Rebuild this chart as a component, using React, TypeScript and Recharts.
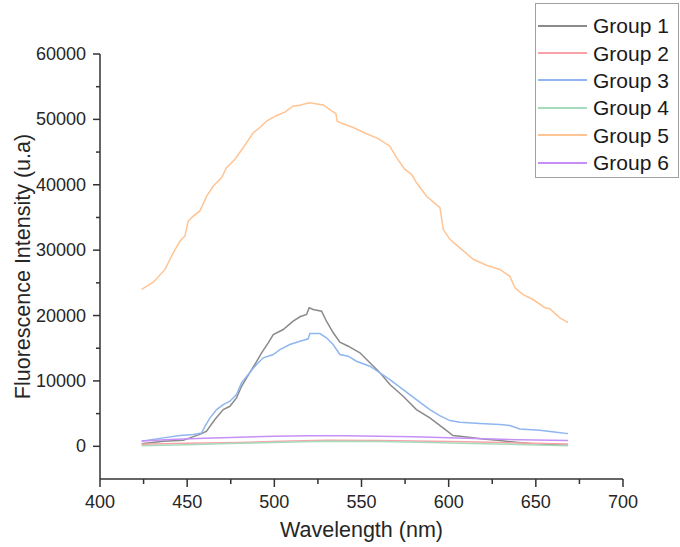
import { LineChart, Line, XAxis, YAxis, Legend } from 'recharts'

const SERIES_NAMES = ['Group 1', 'Group 2', 'Group 3', 'Group 4', 'Group 5', 'Group 6']
const SERIES_COLORS = ['#8a8a8a', '#f9a3a8', '#8fb6f0', '#a6dcbd', '#ffc494', '#c690f7']

const X_TICKS = [400, 425, 450, 475, 500, 525, 550, 575, 600, 625, 650, 675, 700]
const Y_TICKS = [0, 5000, 10000, 15000, 20000, 25000, 30000, 35000, 40000, 45000, 50000, 55000, 60000]

const G1_WL = [423.9, 436.3, 447.8, 451.6, 458.3, 461.1, 465.9, 470.7, 474.5, 478.3, 481.2, 484.1, 488.8, 492.7, 496.5, 499.4, 505.1, 510.8, 514.7, 518.5, 520.0, 522.3, 527.1, 529.9, 533.8, 537.6, 542.4, 549.1, 554.8, 560.6, 566.3, 573.9, 581.5, 589.2, 596.8, 602.5, 610.2, 619.7, 629.4, 638.9, 648.4, 658.0, 668.5]
const G1_VAL = [400, 760, 920, 1290, 1940, 2300, 4090, 5620, 6120, 7410, 9180, 10470, 12510, 14300, 15830, 17100, 17860, 19130, 19810, 20160, 21180, 20920, 20660, 19130, 17360, 15920, 15310, 14300, 12770, 11240, 9440, 7650, 5620, 4350, 2820, 1640, 1440, 1130, 870, 610, 410, 260, 150]

const G2_WL = [423.9, 450, 480, 510, 530, 560, 590, 610, 640, 668.5]
const G2_VAL = [300, 450, 600, 800, 920, 900, 780, 700, 500, 350]

const G3_WL = [423.9, 436.3, 445.9, 453.5, 458.3, 460.2, 463.1, 466.9, 470.7, 474.5, 478.3, 481.2, 485.0, 489.8, 493.6, 499.4, 503.2, 508.9, 514.7, 519.4, 520.4, 526.1, 529.9, 533.7, 537.6, 542.4, 547.1, 554.8, 560.6, 566.3, 573.9, 581.5, 589.2, 594.9, 600.7, 606.4, 617.9, 629.4, 635.1, 640.8, 652.3, 661.8, 668.5]
const G3_VAL = [760, 1290, 1640, 1790, 2050, 3060, 4350, 5620, 6380, 6890, 7910, 9700, 10980, 12510, 13530, 14040, 14800, 15570, 16070, 16440, 17250, 17250, 16590, 15570, 14040, 13780, 13010, 12250, 11240, 10210, 8680, 7150, 5620, 4700, 3930, 3670, 3470, 3320, 3170, 2660, 2450, 2140, 1940]

const G4_WL = [423.9, 450, 480, 510, 530, 560, 590, 620, 645, 668.5]
const G4_VAL = [100, 250, 450, 650, 780, 740, 600, 400, 250, 100]

const G5_WL = [423.9, 430.6, 437.3, 442.0, 445.9, 448.7, 450.6, 453.5, 457.3, 461.2, 465.0, 469.8, 472.6, 477.4, 482.2, 487.9, 491.7, 495.6, 501.3, 506.1, 510.8, 514.7, 520.0, 528.0, 532.9, 535.3, 536.0, 538.6, 545.2, 552.9, 559.6, 566.3, 570.1, 574.9, 578.7, 581.6, 587.3, 595.0, 596.9, 600.7, 606.4, 614.1, 621.7, 629.4, 635.1, 638.0, 642.7, 648.4, 655.2, 658.0, 663.8, 668.5]
const G5_VAL = [24000, 25100, 27050, 29600, 31400, 32150, 34450, 35200, 36000, 38250, 39800, 41100, 42600, 43900, 45700, 47950, 48750, 49750, 50600, 51100, 52050, 52150, 52550, 52200, 51300, 50900, 49750, 49400, 48750, 47800, 47050, 45900, 44150, 42350, 41600, 40300, 38250, 36500, 33150, 31650, 30350, 28600, 27700, 27050, 26000, 24250, 23200, 22450, 21200, 21050, 19650, 18900]

const G6_WL = [423.9, 440, 460, 480, 500, 520, 540, 560, 580, 600, 620, 640, 668.5]
const G6_VAL = [800, 1050, 1250, 1400, 1550, 1600, 1600, 1550, 1450, 1300, 1150, 1000, 870]

const toRows = (wl: number[], val: number[]) => wl.map((w, i) => ({ w, v: val[i] }))
const series = [
  toRows(G1_WL, G1_VAL),
  toRows(G2_WL, G2_VAL),
  toRows(G3_WL, G3_VAL),
  toRows(G4_WL, G4_VAL),
  toRows(G5_WL, G5_VAL),
  toRows(G6_WL, G6_VAL),
]

const FONT = '"Liberation Sans", Arial, sans-serif'
const AXIS = '#333333'
const TEXT = '#262626'
const TICK_SIZE = 8
const TICK_MARGIN = 6

const YTick = (p: any) => {
  const { x, y, payload } = p
  const major = payload.value % 10000 === 0
  const ax = x + TICK_SIZE + TICK_MARGIN
  return (
    <g>
      <line x1={ax - (major ? 7 : 4)} x2={ax} y1={y} y2={y} stroke={AXIS} strokeWidth={1.5} />
      {major && (
        <text x={x} y={y + 6} textAnchor="end" fontSize={18} fill={TEXT} fontFamily={FONT}>
          {payload.value}
        </text>
      )}
    </g>
  )
}

const XTick = (p: any) => {
  const { x, y, payload } = p
  const major = payload.value % 50 === 0
  const ay = y - TICK_SIZE - TICK_MARGIN
  return (
    <g>
      <line x1={x} x2={x} y1={ay} y2={ay + (major ? 8 : 5)} stroke={AXIS} strokeWidth={1.5} />
      {major && (
        <text x={x} y={ay + 29} textAnchor="middle" fontSize={18} fill={TEXT} fontFamily={FONT}>
          {payload.value}
        </text>
      )}
    </g>
  )
}

const LegendBox = ({ payload }: any) => (
  <div style={{ width: 144, height: 175, border: '1.5px solid #a0a0a0', boxSizing: 'border-box', background: '#fff', paddingTop: 8 }}>
    {(payload || []).map((e: any) => (
      <div key={e.value} style={{ height: 27.4, display: 'flex', alignItems: 'center' }}>
        <div style={{ width: 49, height: 2, background: e.color, marginLeft: 2 }} />
        <span style={{ marginLeft: 6, fontSize: 21, fontFamily: FONT, color: '#1a1a1a', lineHeight: '27px' }}>{e.value}</span>
      </div>
    ))}
  </div>
)

export default function App() {
  return (
    <div style={{ position: 'absolute', left: 0, top: 0, background: '#fff' }}>
      <LineChart width={680} height={547} margin={{ top: 54, right: 57, bottom: 0, left: 0 }}>
        <XAxis
          dataKey="w"
          type="number"
          domain={[400, 700]}
          ticks={X_TICKS}
          interval={0}
          height={68}
          tickSize={TICK_SIZE}
          tickMargin={TICK_MARGIN}
          tickLine={false}
          tick={<XTick />}
          axisLine={{ stroke: AXIS, strokeWidth: 1.5 }}
          label={{
            content: ({ viewBox }: any) => (
              <text x={viewBox.x + viewBox.width / 2} y={viewBox.y + 58} textAnchor="middle" fontSize={21.5} fill={TEXT} fontFamily={FONT}>
                Wavelength (nm)
              </text>
            ),
          }}
        />
        <YAxis
          type="number"
          domain={[-5000, 60000]}
          ticks={Y_TICKS}
          interval={0}
          width={100}
          tickSize={TICK_SIZE}
          tickMargin={TICK_MARGIN}
          tickLine={false}
          tick={<YTick />}
          axisLine={{ stroke: AXIS, strokeWidth: 1.5 }}
          label={{
            content: ({ viewBox }: any) => {
              const cx = viewBox.x + 30
              const cy = viewBox.y + viewBox.height / 2
              return (
                <text x={cx} y={cy} transform={`rotate(-90, ${cx}, ${cy})`} textAnchor="middle" fontSize={21.5} fill={TEXT} fontFamily={FONT}>
                  Fluorescence Intensity (u.a)
                </text>
              )
            },
          }}
        />
        <Legend
          layout="vertical"
          align="center"
          verticalAlign="middle"
          content={<LegendBox />}
          wrapperStyle={{ left: 535, top: 3, width: 144, height: 175 }}
        />
        {series.map((d, i) => (
          <Line
            key={SERIES_NAMES[i]}
            data={d}
            dataKey="v"
            name={SERIES_NAMES[i]}
            type="linear"
            stroke={SERIES_COLORS[i]}
            strokeWidth={1.5}
            dot={false}
            activeDot={false}
            isAnimationActive={false}
          />
        ))}
      </LineChart>
    </div>
  )
}
